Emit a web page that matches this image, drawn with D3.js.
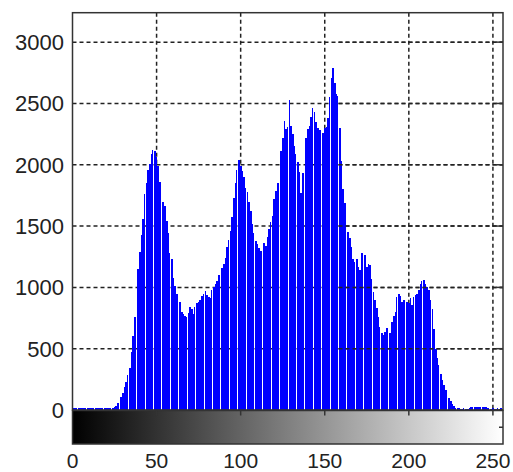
<!DOCTYPE html>
<html>
<head>
<meta charset="utf-8">
<script src="https://d3js.org/d3.v7.min.js"></script>
<style>
  body { margin: 0; background: #fff; }
  text { font-family: Arial, "Liberation Sans", sans-serif; fill: #222; }
</style>
</head>
<body>
<div id="hist"></div>
<script>
// pixel counts per gray level (0..255)
const counts = [
  16, 15, 16, 17, 15, 16, 16, 15, 17, 16, 15, 16, 16, 17, 15, 16, 16, 15, 16, 17, 16, 15, 16, 17, 18,
  25, 35, 55, 75, 110, 140, 185, 225, 285, 340,
  470, 600, 760, 950, 1150, 1290, 1430, 1560, 1760, 1850,
  1960, 2010, 2090, 2120, 2110, 2060, 1990, 1860, 1760, 1700,
  1660, 1540, 1440, 1280, 1230, 1080, 1010, 950, 900, 880,
  800, 780, 770, 760, 790, 840, 820, 780, 840, 870,
  880, 900, 930, 950, 970, 940, 920, 910, 980, 1000,
  1030, 1050, 1100, 1120, 1160, 1190, 1240, 1330, 1390, 1460,
  1570, 1730, 1850, 1960, 2040, 1990, 1950, 1900, 1810, 1780,
  1700, 1620, 1520, 1440, 1380, 1350, 1320, 1300, 1420, 1360,
  1340, 1410, 1480, 1530, 1580, 1720, 1790, 1850, 1950, 2110,
  2220, 2360, 2290, 2310, 2530, 2320, 2250, 2150, 2090, 2020,
  1940, 1770, 1930, 2110, 2220, 2290, 2320, 2390, 2460, 2430,
  2350, 2300, 2280, 2230, 2260, 2300, 2310, 2380, 2550, 2710,
  2785, 2670, 2580, 2560, 2300, 2030, 1800, 1690, 1560, 1450,
  1400, 1330, 1230, 1210, 1230, 1170, 1140, 1280, 1300, 1260,
  1170, 1190, 1180, 1070, 960, 900, 830, 760, 680, 625,
  615, 635, 665, 665, 630, 720, 770, 800, 925, 945,
  930, 880, 900, 920, 880, 870, 910, 860, 920, 935,
  950, 980, 1030, 1055, 1060, 1030, 1000, 980, 900, 820,
  660, 500, 420, 370, 290, 245, 205, 160, 130, 100,
  70, 50, 30, 20,
  14, 13, 12, 12, 13, 12, 12, 13,
  22, 24, 25, 24, 23, 25, 24, 22, 23, 24,
  14, 13, 12, 13, 12, 12, 13, 12, 13
];
const levels = d3.range(counts.length);

const xTicks = [0, 50, 100, 150, 200, 250];
const yTicks = [0, 500, 1000, 1500, 2000, 2500, 3000];

const W = 513, H = 472;
const plot = {left: 72.5, right: 503, top: 12.7, bottom: 410};
const bar = {top: 410.5, bottom: 444};

const x = d3.scaleLinear().domain([0, 256]).range([plot.left, plot.right]);
const y = d3.scaleLinear().domain([0, 3240]).range([plot.bottom, plot.top]);

const svg = d3.select('#hist')
  .append('svg')
  .attr('width', W)
  .attr('height', H);

const defs = svg.append('defs');
defs.append('clipPath').attr('id', 'plotclip')
  .append('rect')
  .attr('x', plot.left).attr('y', plot.top)
  .attr('width', plot.right - plot.left).attr('height', plot.bottom - plot.top);
// matlab drew the horizontal grid above the bars on the right part only
defs.append('clipPath').attr('id', 'overclip')
  .append('rect')
  .attr('x', 336).attr('y', plot.top)
  .attr('width', plot.right - 336).attr('height', plot.bottom - plot.top);

const grad = defs.append('linearGradient').attr('id', 'gray')
  .attr('x1', '0%').attr('x2', '100%').attr('y1', '0%').attr('y2', '0%');
grad.append('stop').attr('offset', '0%').attr('stop-color', '#000');
grad.append('stop').attr('offset', '100%').attr('stop-color', '#fff');

const g = {
  grid: svg.append('g').attr('id', 'grid'),
  bars: svg.append('g').attr('id', 'bars').attr('clip-path', 'url(#plotclip)'),
  over: svg.append('g').attr('id', 'over').attr('clip-path', 'url(#overclip)'),
  frame: svg.append('g').attr('id', 'frame')
};

const dash = '4,3';

function hGrid(sel) {
  sel.selectAll('line.hg')
    .data(yTicks.filter(v => v > 0))
    .enter()
    .append('line')
    .attr('class', 'hg')
    .attr('x1', plot.left).attr('x2', plot.right)
    .attr('y1', v => y(v)).attr('y2', v => y(v))
    .style('stroke', '#222')
    .style('stroke-width', 1.5)
    .style('stroke-dasharray', dash);
}

// grid behind bars
hGrid(g.grid);
g.grid.selectAll('line.vg')
  .data(xTicks.filter(v => v > 0))
  .enter()
  .append('line')
  .attr('class', 'vg')
  .attr('x1', v => x(v)).attr('x2', v => x(v))
  .attr('y1', plot.top).attr('y2', plot.bottom)
  .style('stroke', '#222')
  .style('stroke-width', 1.5)
  .style('stroke-dasharray', dash);

// one stem per gray level, with the light seams every fifth one
const step = x(1) - x(0);
g.bars.selectAll('rect')
  .data(levels)
  .enter()
  .append('rect')
  .attr('x', i => x(i - 0.5))
  .attr('width', i => (i % 5 === 3) ? step - 1 : step)
  .attr('y', i => y(counts[i]))
  .attr('height', i => y(0) - y(counts[i]))
  .style('fill', '#0000ff')
  .attr('shape-rendering', 'crispEdges');

hGrid(g.over);

// axes box + inward ticks
g.frame.append('rect')
  .attr('x', plot.left).attr('y', plot.top)
  .attr('width', plot.right - plot.left).attr('height', plot.bottom - plot.top)
  .style('fill', 'none').style('stroke', '#333').style('stroke-width', 1.5);

g.frame.selectAll('line.ry')
  .data(yTicks)
  .enter()
  .append('line')
  .attr('x1', plot.right - 7).attr('x2', plot.right)
  .attr('y1', v => y(v)).attr('y2', v => y(v))
  .style('stroke', '#333').style('stroke-width', 1.5);

g.frame.selectAll('text.yl')
  .data(yTicks)
  .enter()
  .append('text')
  .attr('class', 'yl')
  .attr('x', 64)
  .attr('y', v => y(v) + 8)
  .attr('text-anchor', 'end')
  .style('font-size', '22px')
  .text(v => v);

// gray colorbar under the histogram
g.frame.append('rect')
  .attr('x', plot.left).attr('y', bar.top)
  .attr('width', plot.right - plot.left).attr('height', bar.bottom - bar.top)
  .style('fill', 'url(#gray)')
  .style('stroke', '#333').style('stroke-width', 1.5);

g.frame.selectAll('line.bt')
  .data(xTicks.filter(v => v > 0))
  .enter()
  .append('line')
  .attr('x1', v => x(v)).attr('x2', v => x(v))
  .attr('y1', bar.top).attr('y2', bar.top + 5)
  .style('stroke', '#333').style('stroke-width', 1.5);

g.frame.append('line')
  .attr('x1', plot.right - 4).attr('x2', plot.right)
  .attr('y1', (bar.top + bar.bottom) / 2).attr('y2', (bar.top + bar.bottom) / 2)
  .style('stroke', '#333').style('stroke-width', 1.5);

g.frame.selectAll('text.xl')
  .data(xTicks)
  .enter()
  .append('text')
  .attr('class', 'xl')
  .attr('x', v => x(v))
  .attr('y', 467.5)
  .attr('text-anchor', 'middle')
  .style('font-size', '21px')
  .text(v => v);
</script>
</body>
</html>
